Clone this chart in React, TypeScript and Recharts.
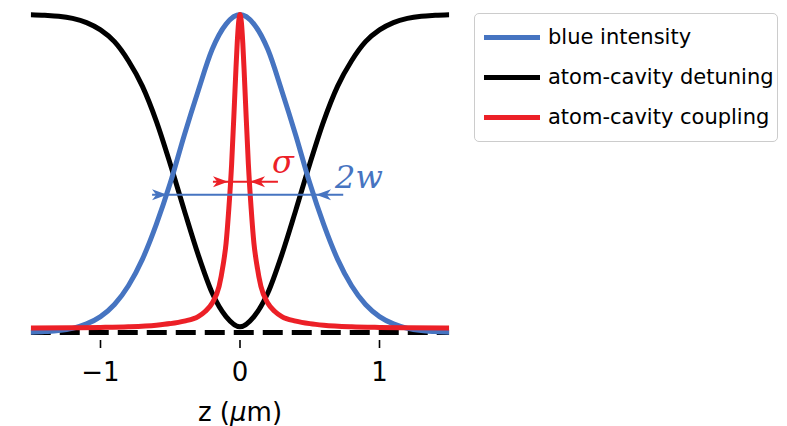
import React from "react";
import { LineChart, Line, XAxis, YAxis, ReferenceLine, ReferenceDot } from "recharts";

// grid for the two broad curves (z in µm)
const zGrid = [
  -1.5, -1.4, -1.3, -1.2, -1.1, -1.0, -0.9, -0.8, -0.7, -0.6, -0.5, -0.4, -0.3, -0.2, -0.1,
  0, 0.1, 0.2, 0.3, 0.4, 0.5, 0.6, 0.7, 0.8, 0.9, 1.0, 1.1, 1.2, 1.3, 1.4, 1.5,
];
const blueIntensity = [
  0.001, 0.003, 0.006, 0.013, 0.027, 0.05, 0.088, 0.147, 0.23, 0.34, 0.47, 0.62, 0.76, 0.89, 0.97,
  1.0, 0.97, 0.89, 0.76, 0.62, 0.47, 0.34, 0.23, 0.147, 0.088, 0.05, 0.027, 0.013, 0.006, 0.003, 0.001,
];
const detuning = [
  1.0, 0.998, 0.995, 0.988, 0.975, 0.952, 0.915, 0.855, 0.775, 0.665, 0.53, 0.385, 0.245, 0.125, 0.05,
  0.018, 0.05, 0.125, 0.245, 0.385, 0.53, 0.665, 0.775, 0.855, 0.915, 0.952, 0.975, 0.988, 0.995, 0.998, 1.0,
];

// denser grid for the narrow coupling peak
const zFine = [
  -1.5, -1.2, -1.0, -0.8, -0.6, -0.5, -0.4, -0.3, -0.25, -0.2, -0.15, -0.12, -0.1, -0.08, -0.06, -0.04, -0.03, -0.02, -0.01,
  0, 0.01, 0.02, 0.03, 0.04, 0.06, 0.08, 0.1, 0.12, 0.15, 0.2, 0.25, 0.3, 0.4, 0.5, 0.6, 0.8, 1.0, 1.2, 1.5,
];
const coupling = [
  0.014, 0.015, 0.016, 0.018, 0.023, 0.028, 0.036, 0.05, 0.066, 0.092, 0.145, 0.215, 0.28, 0.39, 0.53, 0.72, 0.82, 0.91, 0.975,
  1.0, 0.975, 0.91, 0.82, 0.72, 0.53, 0.39, 0.28, 0.215, 0.145, 0.092, 0.066, 0.05, 0.036, 0.028, 0.023, 0.018, 0.016, 0.015, 0.014,
];

const zeroX = [-1.5, 1.5];
const zeroY = [0, 0];
const xTicks = [-1, 0, 1];

const BLUE = "#4674c1";
const RED = "#ec2027";
const FONT = "DejaVu Sans";

const toRows = (xs: number[], ys: number[]) => xs.map((x, i) => ({ x, y: ys[i] }));

const blueData = toRows(zGrid, blueIntensity);
const blackData = toRows(zGrid, detuning);
const redData = toRows(zFine, coupling);
const zeroData = toRows(zeroX, zeroY);

// annotation arrows (data coords): line ends, arrow tips, height
const wArrow = { from: -0.63, to: 0.74, tips: [-0.523, 0.545], y: 0.433 };
const sigmaArrow = { from: -0.194, to: 0.272, tips: [-0.086, 0.072], y: 0.4745 };

function head(tx: number, y: number, dir: number, color: string) {
  const L = 15;
  const W = 5.5;
  const pts = [
    [tx, y],
    [tx - dir * L, y - W],
    [tx - dir * L * 0.72, y],
    [tx - dir * L, y + W],
  ]
    .map((p) => p.join(","))
    .join(" ");
  return <polygon points={pts} fill={color} />;
}

function arrowShape(a: typeof wArrow, color: string) {
  return (p: any) => {
    const { x1, x2, y1 } = p;
    const px = (t: number) => x1 + ((t - a.from) / (a.to - a.from)) * (x2 - x1);
    return (
      <g>
        <line x1={x1} y1={y1} x2={x2} y2={y1} stroke={color} strokeWidth={2} />
        {head(px(a.tips[0]), y1, 1, color)}
        {head(px(a.tips[1]), y1, -1, color)}
      </g>
    );
  };
}

function mathText(label: string, color: string, size: number) {
  return (p: any) => (
    <text
      x={p.cx}
      y={p.cy}
      fill={color}
      fontSize={size}
      fontStyle="italic"
      fontFamily="DejaVu Serif"
      textAnchor="middle"
    >
      {label}
    </text>
  );
}

const legendItems = [
  { name: "blue intensity", color: BLUE },
  { name: "atom-cavity detuning", color: "#000" },
  { name: "atom-cavity coupling", color: RED },
];

export default function App() {
  return (
    <div style={{ position: "absolute", left: 0, top: 0, width: 787, height: 426, background: "#fff", fontFamily: FONT }}>
      <LineChart width={787} height={426} margin={{ top: 0, left: 30.75, right: 337.75, bottom: 26 }}>
        <XAxis
          dataKey="x"
          type="number"
          domain={[-1.5, 1.5]}
          allowDataOverflow
          ticks={xTicks}
          axisLine={false}
          tickSize={8}
          tickMargin={15}
          height={60}
          tickLine={{ stroke: "#000", strokeWidth: 1.6 }}
          tick={{ fontSize: 26, fill: "#000", fontFamily: FONT }}
          tickFormatter={(v: number) => (v < 0 ? `\u2212${-v}` : `${v}`)}
          label={{
            content: (p: any) => {
              const vb = p.viewBox || { x: 30.75, y: 340, width: 418.5 };
              return (
                <text x={vb.x + vb.width / 2} y={vb.y + 81} fontSize={26} fill="#000" fontFamily={FONT} textAnchor="middle">
                  z (<tspan fontStyle="italic">μ</tspan>m)
                </text>
              );
            },
          }}
        />
        <YAxis hide type="number" domain={[-0.0236, 1.046]} allowDataOverflow />
        <Line data={zeroData} dataKey="y" stroke="#000" strokeWidth={5} strokeDasharray="20 9" dot={false} isAnimationActive={false} />
        <Line data={blackData} dataKey="y" type="monotone" stroke="#000" strokeWidth={5} dot={false} isAnimationActive={false} />
        <Line data={blueData} dataKey="y" type="monotone" stroke={BLUE} strokeWidth={5} dot={false} isAnimationActive={false} />
        <Line data={redData} dataKey="y" type="monotone" stroke={RED} strokeWidth={5} dot={false} isAnimationActive={false} />
        <ReferenceLine
          segment={[
            { x: wArrow.from, y: wArrow.y },
            { x: wArrow.to, y: wArrow.y },
          ]}
          shape={arrowShape(wArrow, BLUE)}
        />
        <ReferenceLine
          segment={[
            { x: sigmaArrow.from, y: sigmaArrow.y },
            { x: sigmaArrow.to, y: sigmaArrow.y },
          ]}
          shape={arrowShape(sigmaArrow, RED)}
        />
        <ReferenceDot x={0.308} y={0.503} r={1} shape={mathText("σ", RED, 32)} />
        <ReferenceDot x={0.853} y={0.455} r={1} shape={mathText("2w", BLUE, 32)} />
      </LineChart>
      <div
        style={{
          position: "absolute",
          left: 474,
          top: 13,
          width: 302,
          height: 127,
          border: "1.5px solid #cccccc",
          borderRadius: 5,
          background: "#fff",
        }}
      >
        {legendItems.map((it, i) => (
          <div key={it.name} style={{ position: "absolute", left: 0, top: 23 + i * 40 - 15, height: 30, display: "flex", alignItems: "center" }}>
            <div style={{ marginLeft: 9, width: 56, height: 5, background: it.color }} />
            <span style={{ marginLeft: 8, fontSize: 21, color: "#000", whiteSpace: "nowrap", lineHeight: "30px" }}>{it.name}</span>
          </div>
        ))}
      </div>
    </div>
  );
}
